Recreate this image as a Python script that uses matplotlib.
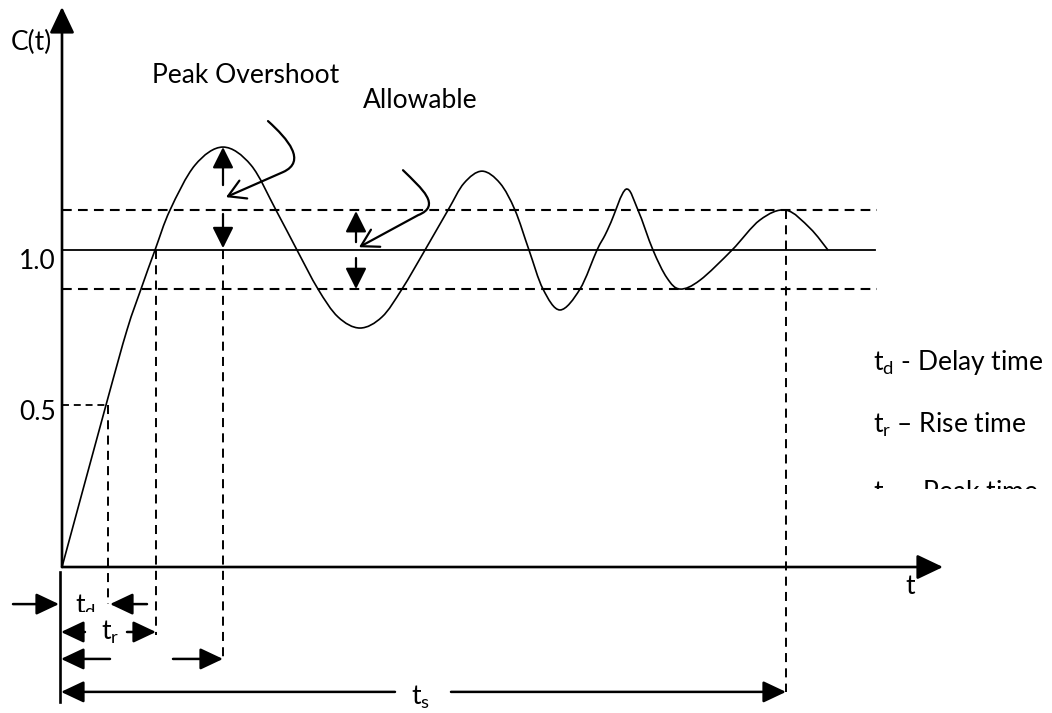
import numpy as np
import matplotlib
matplotlib.use("Agg")
import matplotlib.pyplot as plt
from matplotlib.path import Path
from matplotlib.patches import FancyArrowPatch, PathPatch
from matplotlib.transforms import Bbox, TransformedBbox

plt.rcParams["font.family"] = ["Lato", "DejaVu Sans"]
plt.rcParams["mathtext.fontset"] = "custom"
plt.rcParams["mathtext.rm"] = "Lato"
plt.rcParams["lines.scale_dashes"] = False

# step response: time (arb. units) and C(t)
t_resp = [0, 44, 65, 79, 93, 108, 133, 161, 189, 214, 235, 256, 276, 298, 320,
          340, 363, 386, 402, 420, 438, 453, 467, 481, 498, 518, 535, 543, 549,
          564, 576, 591, 605, 618, 638, 670, 698, 724, 748, 766]
c_resp = [0.0, 0.511, 0.748, 0.877, 1.0, 1.126, 1.268, 1.325, 1.268, 1.126, 1.0,
          0.877, 0.789, 0.754, 0.789, 0.877, 1.0, 1.126, 1.211, 1.249, 1.211,
          1.126, 1.0, 0.877, 0.811, 0.877, 1.0, 1.047, 1.088, 1.192, 1.126, 1.0,
          0.912, 0.877, 0.905, 1.0, 1.095, 1.126, 1.069, 1.0]

c_final = 1.0
c_half = 0.511
band_hi, band_lo = 1.126, 0.877
t_end = 813            # end of the reference lines
t_d, t_r, t_p, t_s = 46, 94, 161, 724
t_axis_end = 881
c_axis_end = 1.767

# dimension rows below the time axis
row_d, row_r, row_p, row_s = -0.117, -0.205, -0.290, -0.394

XLIM = (-62, 990)
YLIM = (-0.4606, 1.789)

fig = plt.figure(figsize=(10.52, 7.13), dpi=100)
ax = fig.add_axes([0, 0, 1, 1])
ax.set_xlim(*XLIM)
ax.set_ylim(*YLIM)
ax.axis("off")


def smooth_path(xs, ys):
    # catmull-rom through the read points, drawn as cubic bezier segments
    p = np.column_stack([xs, ys]).astype(float)
    p = np.vstack([p[0], p, p[-1]])
    verts = [p[1]]
    codes = [Path.MOVETO]
    for i in range(1, len(p) - 2):
        c1 = p[i] + (p[i + 1] - p[i - 1]) / 6.0
        c2 = p[i + 1] - (p[i + 2] - p[i]) / 6.0
        verts += [c1, c2, p[i + 1]]
        codes += [Path.CURVE4] * 3
    return Path(verts, codes)


def arrow(x0, y0, x1, y1, lw=1.8, ms=20, hl=0.7, hw=0.33):
    ax.annotate("", xy=(x1, y1), xytext=(x0, y0),
                arrowprops=dict(arrowstyle=f"-|>,head_length={hl},head_width={hw}",
                                color="black", lw=lw, mutation_scale=ms,
                                shrinkA=0, shrinkB=0))


K = "black"
dash = (0, (7, 4.5))

# response curve
ax.add_patch(PathPatch(smooth_path(t_resp, c_resp), fill=False, lw=1.2, color=K))

# reference lines
ax.plot([0, t_end], [c_final, c_final], color=K, lw=1.3)
ax.plot([0, t_end + 2], [band_hi, band_hi], color=K, lw=1.5, ls=dash)
ax.plot([0, t_end + 2], [band_lo, band_lo], color=K, lw=1.5, ls=dash)
ax.plot([0, t_d], [c_half, c_half], color=K, lw=1.3, ls=(0, (5, 3.5)))

# vertical guides
vdash = (0, (6.5, 4.5))
ax.plot([t_d, t_d], [c_half, row_d], color=K, lw=1.4, ls=vdash)
ax.plot([t_r, t_r], [c_final, -0.215], color=K, lw=1.4, ls=vdash)
ax.plot([t_p, t_p], [c_final, row_p], color=K, lw=1.4, ls=vdash)
ax.plot([t_s, t_s], [band_hi, row_s], color=K, lw=1.4, ls=vdash)

# axes
arrow(0, 0, t_axis_end, 0, lw=1.9, ms=20, hl=0.8, hw=0.38)
arrow(0, 0, 0, c_axis_end, lw=1.9, ms=20, hl=0.8, hw=0.38)
ax.plot([-2, -2], [-0.016, -0.426], color=K, lw=1.9)

# overshoot / tolerance markers
arrow(t_p, 1.205, t_p, 1.325, lw=1.6, ms=16, hl=0.8, hw=0.4)
arrow(t_p, 1.114, t_p, 1.006, lw=1.6, ms=16, hl=0.8, hw=0.4)
arrow(294, 1.025, 294, 1.123, lw=1.6, ms=16, hl=0.8, hw=0.4)
arrow(294, 0.975, 294, 0.877, lw=1.6, ms=16, hl=0.8, hw=0.4)

# curly pointers
for verts in ([(206, 1.407), (226, 1.350), (245, 1.280), (221, 1.246), (164, 1.167)],
              [(341, 1.252), (360, 1.193), (380, 1.140), (356, 1.110), (297, 1.009)]):
    codes = [Path.MOVETO, Path.CURVE4, Path.CURVE4, Path.CURVE4, Path.LINETO]
    ax.add_patch(FancyArrowPatch(path=Path(verts, codes),
                                 arrowstyle="->,head_length=0.6,head_width=0.35",
                                 mutation_scale=20, lw=1.6, color=K))

# dimension arrows
arrow(-49, row_d, -3, row_d)
arrow(85, row_d, 48, row_d)
arrow(23, row_r, -1, row_r)
arrow(65, row_r, t_r, row_r)
arrow(48, row_p, -1, row_p)
arrow(111, row_p, t_p, row_p)
arrow(333, row_s, -1, row_s)
arrow(389, row_s, t_s, row_s)

fs = 19
ax.text(-31, 1.655, "C(t)", fontsize=fs, ha="center", va="center")
ax.text(-6, 0.965, "1.0", fontsize=fs, ha="right", va="center")
ax.text(-6, 0.489, "0.5", fontsize=fs, ha="right", va="center")
ax.text(848, -0.060, "t", fontsize=fs, ha="center", va="center")
ax.text(90, 1.552, "Peak Overshoot", fontsize=fs, ha="left", va="center")
ax.text(301, 1.473, "Allowable", fontsize=fs, ha="left", va="center")
ax.text(48, row_r, r"t$_{\rm r}$", fontsize=fs, ha="center", va="center")
ax.text(358, -0.410, r"t$_{\rm s}$", fontsize=fs, ha="center", va="center")
ax.text(811, 0.644, r"t$_{\rm d}$ - Delay time", fontsize=fs, ha="left", va="center")
ax.text(811, 0.448, r"t$_{\rm r}$ – Rise time", fontsize=fs, ha="left", va="center")

# clipped labels (cut off in the original)
tx = ax.text(13, -0.123, r"t$_{\rm d}$", fontsize=fs, ha="left", va="center")
tx.set_clip_box(TransformedBbox(Bbox([[XLIM[0], -0.142], [XLIM[1], YLIM[1]]]), ax.transData))
tx.set_clip_on(True)
tp = ax.text(811, 0.233, r"t$_{\rm p}$ – Peak time", fontsize=fs, ha="left", va="center")
tp.set_clip_box(TransformedBbox(Bbox([[XLIM[0], 0.246], [XLIM[1], YLIM[1]]]), ax.transData))
tp.set_clip_on(True)

fig.savefig("out.png", dpi=100)
